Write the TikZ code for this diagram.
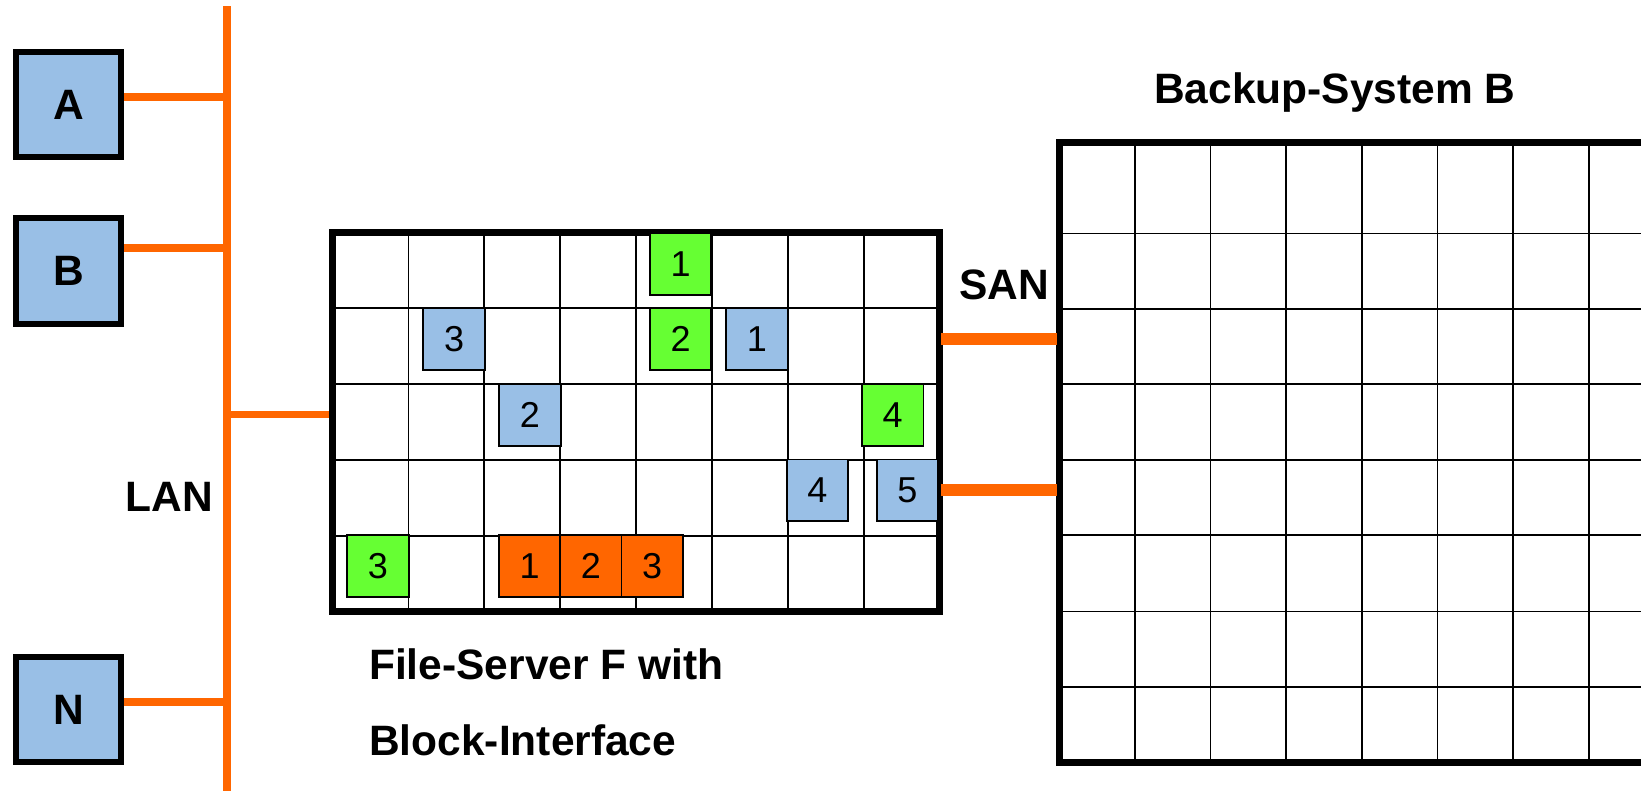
\documentclass[tikz,border=0pt]{standalone}
\usepackage{fontspec}
\setmainfont{Liberation Sans}
\definecolor{hostblue}{RGB}{153,191,230}
\definecolor{blkgreen}{RGB}{102,255,51}
\definecolor{wireorange}{RGB}{255,102,0}
\tikzset{
  lbl/.style={font=\fontsize{42.5}{50}\selectfont\bfseries, inner sep=0pt},
  host/.style={draw, line width=6pt, fill=hostblue, minimum size=105.6pt,
    inner sep=0pt, font=\fontsize{42.5}{50}\selectfont\bfseries},
  frame/.style={draw, line width=7pt, inner sep=0pt},
  gridln/.style={line width=1.8pt},
  lan/.style={draw=wireorange, line width=7.5pt},
  lanbus/.style={draw=wireorange, line width=8pt},
  san/.style={draw=wireorange, line width=11.5pt},
  blk/.style={draw, line width=1.8pt, minimum width=61.5pt, minimum height=61.5pt,
    inner sep=0pt, font=\fontsize{36}{40}\selectfont},
  bblk/.style={blk, fill=hostblue},
  gblk/.style={blk, fill=blkgreen},
  oblk/.style={blk, fill=wireorange, minimum width=61.2pt},
}
\begin{document}
\begin{tikzpicture}[x=1pt, y=-1pt]
\useasboundingbox (0,0) rectangle (1641,790);

% --- grid of the file server (8 x 5 cells)
\foreach \k in {1,...,7}
  \draw[gridln] ({332.6+75.86*\k},232.3) -- ++(0,379.2);
\foreach \k in {1,...,4}
  \draw[gridln] (332.6,{232.3+75.84*\k}) -- ++(606.9,0);

% --- grid of the backup system (runs off the right edge)
\foreach \k in {1,...,7}
  \draw[gridln] ({1059+75.7*\k},142.2) -- ++(0,620.1);
\foreach \y in {233.5,309,384.3,459.7,535.3,611.5,687.3}
  \draw[gridln] (1059,\y) -- (1650,\y);

% --- frames
\node[frame, minimum width=606.9pt, minimum height=379.2pt] (fs) at (636.05,421.9) {};
\node[frame, minimum width=682pt, minimum height=620.1pt] (bk) at (1400,452.25) {};

% --- hosts
\node[host] (A) at (68.5,104.4) {\raisebox{-1.5pt}{A}};
\node[host] (B) at (68.5,271.05) {\raisebox{-1.5pt}{B}};
\node[host] (N) at (68.5,709.6) {\raisebox{-1.5pt}{N}};

% --- LAN bus and branches
\coordinate (lanTop) at (226.7,6);
\coordinate (lanBot) at (226.7,795);
\draw[lanbus] (lanTop) -- (lanBot);
\draw[lan] ([yshift=7.4pt]A.east) -- ([yshift=7.4pt]A.east -| lanTop);
\draw[lan] ([yshift=23.2pt]B.east) -- ([yshift=23.2pt]B.east -| lanTop);
\draw[lan] ([yshift=7.6pt]N.east) -- ([yshift=7.6pt]N.east -| lanTop);
\draw[lan] ([yshift=7.4pt]fs.west) -- ([yshift=7.4pt]fs.west -| lanTop);

% --- SAN links
\coordinate (sanTop) at (1000,339);
\coordinate (sanBot) at (1000,490);
\draw[san] ([xshift=-2pt]fs.east |- sanTop) -- ([xshift=1pt]bk.west |- sanTop);
\draw[san] ([xshift=-2pt]fs.east |- sanBot) -- ([xshift=1pt]bk.west |- sanBot);

% --- blocks on the file server
\node[gblk] (g1) at (680.6,264) {1};
\node[gblk] (g2) at (680.6,339.2) {2};
\node[gblk] (g3) at (378,565.9) {3};
\node[gblk] (g4) at (892.7,414.9) {4};
\node[bblk] (b1) at (756.8,339.2) {1};
\node[bblk] (b2) at (529.9,414.9) {2};
\node[bblk] (b3) at (454.1,339.2) {3};
\node[bblk] (b4) at (817.4,490.2) {4};
\node[bblk] (b5) at (907.4,490.2) {5};
\node[oblk] (o1) at (529.7,565.9) {1};
\node[oblk] (o2) at (590.9,565.9) {2};
\node[oblk] (o3) at (652.1,565.9) {3};

% --- labels
\node[lbl, anchor=base east] (lanlbl) at (213,511.7) {LAN};
\node[lbl, anchor=base west] (sanlbl) at (959.3,299.5) {SAN};
\node[lbl, anchor=base west] (bktitle) at (1154,103) {Backup-System B};
\node[lbl, anchor=base west] (fslbl1) at (369,679) {File-Server F with};
\node[lbl, anchor=base west] (fslbl2) at (369,755) {Block-Interface};
\end{tikzpicture}
\end{document}
